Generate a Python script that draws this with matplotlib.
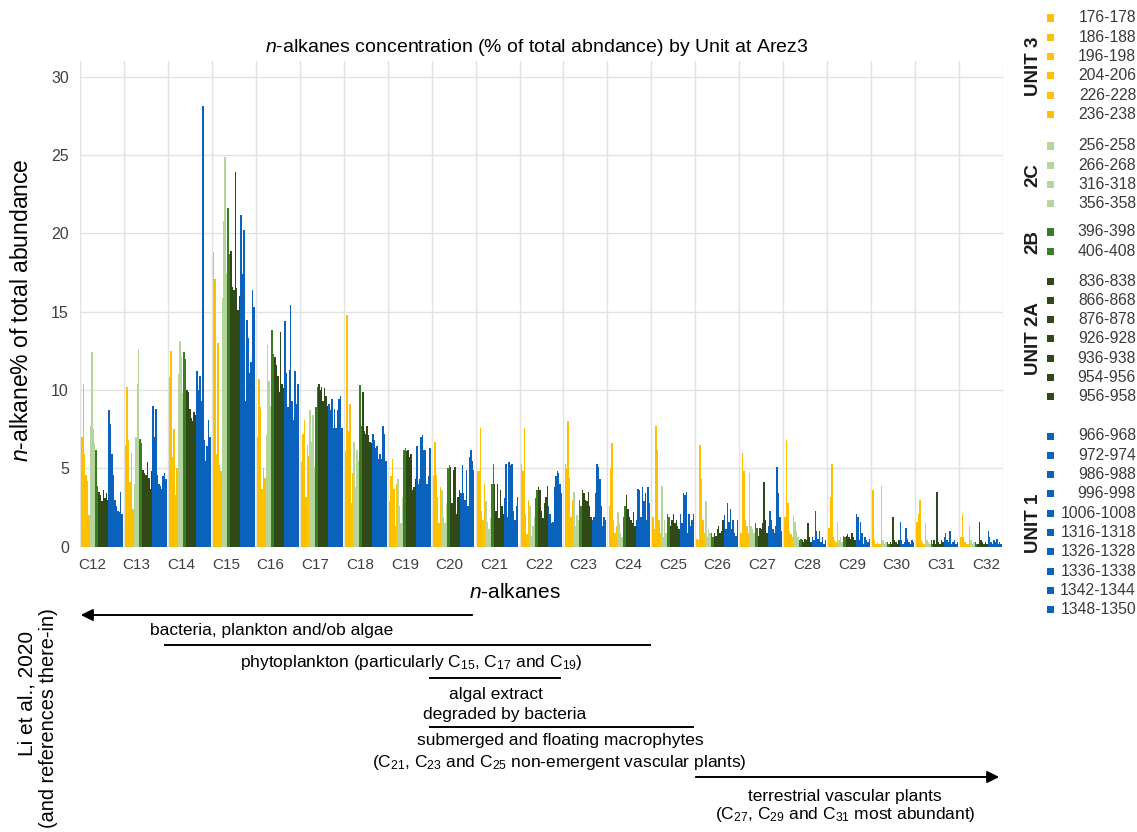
import matplotlib
matplotlib.use("Agg")
import matplotlib.pyplot as plt
from matplotlib.lines import Line2D
from matplotlib.patches import Rectangle, FancyArrowPatch

plt.rcParams['font.family'] = ['Liberation Sans', 'DejaVu Sans']
plt.rcParams['mathtext.fontset'] = 'custom'
plt.rcParams['mathtext.rm'] = 'Liberation Sans'
plt.rcParams['mathtext.it'] = 'Liberation Sans:italic'

alkanes = ['C12', 'C13', 'C14', 'C15', 'C16', 'C17', 'C18', 'C19', 'C20', 'C21', 'C22',
           'C23', 'C24', 'C25', 'C26', 'C27', 'C28', 'C29', 'C30', 'C31', 'C32']

unit3_depths = ['176-178', '186-188', '196-198', '204-206', '226-228', '236-238']
unit2c_depths = ['256-258', '266-268', '316-318', '356-358']
unit2b_depths = ['396-398', '406-408']
unit2a_depths = ['836-838', '866-868', '876-878', '926-928', '936-938', '954-956', '956-958']
unit1_depths = ['966-968', '972-974', '986-988', '996-998', '1006-1008', '1316-1318',
                '1326-1328', '1336-1338', '1342-1344', '1348-1350']

# one row per alkane (C12 ... C32), one column per sample depth
unit3 = [
    [7.0, 10.4, 5.9, 4.6, 4.2, 2.0],
    [6.5, 10.2, 6.8, 4.1, 6.0, 2.4],
    [10.8, 12.5, 5.7, 7.5, 3.3, 5.0],
    [18.8, 17.1, 5.9, 13.0, 5.2, 4.8],
    [7.0, 10.7, 8.9, 3.7, 5.0, 4.4],
    [5.4, 7.2, 8.1, 3.2, 6.5, 5.8],
    [6.1, 14.8, 7.4, 9.1, 2.8, 4.7],
    [2.9, 4.5, 5.6, 3.7, 1.3, 4.0],
    [4.5, 6.7, 4.6, 3.2, 1.5, 3.8],
    [4.8, 4.8, 7.6, 2.3, 1.7, 4.0],
    [5.3, 4.8, 7.6, 2.1, 0.8, 3.0],
    [5.3, 5.0, 8.0, 4.4, 1.9, 3.0],
    [2.6, 5.0, 6.6, 1.7, 0.9, 1.3],
    [1.9, 1.1, 7.7, 6.2, 1.7, 0.9],
    [0.5, 0.4, 6.5, 4.3, 1.7, 0.9],
    [0.9, 6.0, 4.8, 1.7, 1.3, 0.9],
    [1.9, 6.8, 2.8, 1.0, 0.8, 0.6],
    [1.2, 3.2, 5.3, 0.6, 0.4, 0.3],
    [3.6, 0.4, 0.2, 0.3, 0.2, 0.2],
    [1.6, 2.1, 3.0, 0.4, 0.3, 0.2],
    [0.6, 2.1, 0.6, 0.3, 0.2, 0.2],
]
unit2c = [
    [7.7, 12.4, 7.5, 6.6],
    [4.0, 7.0, 10.4, 12.6],
    [11.0, 13.1, 12.2, 9.8],
    [15.9, 20.8, 24.9, 17.5],
    [7.1, 12.9, 10.6, 9.0],
    [8.7, 6.7, 8.4, 5.1],
    [6.7, 3.8, 6.2, 5.5],
    [4.3, 2.6, 1.5, 3.2],
    [3.6, 1.9, 1.5, 2.8],
    [2.9, 1.6, 1.1, 1.8],
    [2.6, 0.7, 1.3, 1.9],
    [3.5, 1.3, 2.0, 1.7],
    [2.2, 1.5, 0.9, 0.6],
    [3.9, 0.6, 1.7, 0.9],
    [2.9, 0.6, 1.1, 0.9],
    [4.7, 1.3, 1.1, 0.9],
    [2.0, 1.6, 1.0, 0.6],
    [1.6, 0.4, 0.6, 0.3],
    [3.9, 0.4, 0.2, 0.3],
    [1.5, 0.4, 0.3, 0.2],
    [1.3, 0.4, 0.2, 0.3],
]
unit2b = [
    [6.2, 3.9], [6.9, 6.6], [12.4, 12.0], [21.6, 18.7], [13.8, 12.3], [8.9, 10.2],
    [10.3, 7.7], [6.2, 6.3], [5.0, 5.2], [4.0, 5.3], [3.1, 3.6], [3.0, 2.6],
    [1.9, 2.6], [2.1, 1.9], [0.9, 0.6], [1.5, 1.2], [0.4, 0.5], [0.7, 0.6],
    [0.3, 0.2], [0.4, 0.2], [0.3, 0.2],
]
unit2a = [
    [3.5, 3.3, 2.9, 3.6, 3.1, 3.4, 3.0],
    [4.9, 4.7, 4.6, 5.4, 4.4, 3.7, 4.8],
    [10.0, 9.9, 8.8, 8.2, 8.0, 8.6, 8.4],
    [18.9, 16.6, 16.4, 23.9, 16.5, 15.1, 16.0],
    [12.1, 11.6, 10.9, 9.9, 13.7, 10.4, 10.1],
    [10.4, 10.0, 10.2, 9.3, 10.1, 9.6, 9.0],
    [9.9, 7.4, 7.2, 7.7, 7.1, 6.7, 6.6],
    [6.1, 6.2, 5.7, 5.9, 3.6, 3.8, 4.3],
    [5.1, 2.8, 4.9, 5.1, 2.1, 3.2, 3.6],
    [4.0, 2.3, 4.0, 1.8, 3.6, 2.6, 2.1],
    [3.8, 3.6, 2.3, 1.8, 2.8, 3.2, 3.9],
    [3.6, 3.4, 3.0, 2.9, 3.5, 2.6, 1.9],
    [3.3, 2.4, 1.9, 1.7, 1.5, 2.2, 1.3],
    [1.3, 1.7, 2.1, 1.5, 1.7, 1.3, 1.1],
    [0.9, 0.7, 1.1, 1.3, 0.9, 1.0, 1.7],
    [0.7, 1.2, 1.1, 1.5, 4.1, 1.7, 0.9],
    [0.4, 0.3, 0.5, 0.4, 1.5, 0.6, 0.3],
    [0.7, 0.8, 0.6, 0.5, 0.9, 0.6, 0.4],
    [0.3, 0.2, 1.9, 0.4, 0.3, 0.2, 0.4],
    [0.4, 0.2, 3.5, 0.3, 0.2, 0.4, 0.3],
    [0.2, 1.6, 0.4, 0.3, 0.2, 0.3, 0.2],
]
unit1 = [
    [8.7, 7.8, 5.9, 4.6, 3.0, 2.6, 2.3, 2.2, 3.5, 2.1],
    [9.0, 7.0, 8.8, 4.6, 4.0, 3.9, 3.7, 4.5, 4.7, 4.3],
    [11.2, 10.0, 10.9, 9.3, 28.1, 6.8, 5.5, 6.4, 8.1, 7.0],
    [21.2, 17.4, 20.2, 9.3, 14.5, 13.3, 11.1, 11.8, 16.4, 15.3],
    [14.4, 11.1, 8.9, 11.3, 15.4, 9.3, 8.1, 11.2, 9.1, 10.4],
    [9.1, 8.7, 9.4, 7.6, 8.8, 7.6, 8.7, 9.4, 9.6, 7.6],
    [7.2, 6.8, 6.3, 6.4, 5.6, 5.9, 5.6, 7.7, 7.2, 5.5],
    [6.4, 4.0, 4.3, 7.0, 7.1, 6.2, 6.2, 4.0, 4.5, 6.3],
    [3.4, 5.2, 3.4, 3.0, 4.9, 2.6, 5.7, 6.2, 5.5, 4.9],
    [3.1, 5.3, 1.9, 5.4, 5.2, 5.3, 2.3, 1.7, 2.6, 3.2],
    [2.6, 2.1, 1.5, 1.6, 3.8, 4.5, 4.8, 4.7, 4.0, 3.4],
    [1.7, 1.9, 3.4, 5.3, 5.1, 4.3, 2.6, 1.3, 1.9, 1.7],
    [1.7, 3.7, 3.6, 1.9, 3.8, 2.9, 3.4, 1.7, 3.8, 2.8],
    [2.1, 1.5, 3.4, 3.3, 3.5, 0.9, 2.1, 1.3, 1.7, 2.1],
    [2.0, 1.1, 2.8, 1.6, 2.4, 1.1, 1.7, 0.9, 0.7, 1.7],
    [1.3, 2.3, 1.7, 1.1, 0.9, 1.3, 5.1, 3.4, 1.9, 1.0],
    [0.6, 0.4, 2.3, 1.0, 0.5, 1.0, 0.3, 0.6, 0.2, 0.4],
    [2.1, 1.9, 0.4, 1.6, 0.9, 0.2, 0.6, 0.4, 0.3, 0.5],
    [1.6, 0.4, 0.2, 0.3, 1.2, 0.5, 0.3, 0.2, 0.4, 0.3],
    [0.6, 0.9, 0.4, 0.3, 1.0, 0.2, 0.3, 0.4, 0.2, 0.3],
    [1.0, 0.6, 0.3, 0.2, 0.4, 0.3, 0.5, 0.2, 0.3, 0.2],
]

groups = [
    ('UNIT 3', unit3_depths, unit3, '#ffc000'),
    ('2C', unit2c_depths, unit2c, '#b4d69c'),
    ('2B', unit2b_depths, unit2b, '#3b7d23'),
    ('UNIT 2A', unit2a_depths, unit2a, '#2f4a17'),
    ('UNIT 1', unit1_depths, unit1, '#0a62bd'),
]

W, H = 1137, 832
fig = plt.figure(figsize=(W / 100, H / 100), dpi=100)


def fx(x):
    return x / W


def fy(y):
    return 1 - y / H


ax = fig.add_axes([fx(80), fy(546.7), (1003 - 80) / W, (546.7 - 61) / H])

n_series = sum(len(g[1]) for g in groups)
span = 0.95
bw = span / n_series
s = 0
for name, depths, vals, col in groups:
    for j in range(len(depths)):
        xs = [i - span / 2 + (s + 0.5) * bw for i in range(len(alkanes))]
        hs = [row[j] for row in vals]
        ax.bar(xs, hs, width=bw, color=col, linewidth=0, zorder=3)
        s += 1

ax.set_xlim(-0.5, len(alkanes) - 0.5)
ax.set_ylim(0, 31)
ax.set_yticks(range(0, 31, 5))
# category labels are spread a little wider than the bar slots
ax.set_xticks([-0.23 + i * 1.017 for i in range(len(alkanes))])
ax.set_xticklabels(alkanes)
ax.set_xticks([i + 0.5 for i in range(-1, len(alkanes))], minor=True)
ax.grid(axis='y', which='major', color='#e2e2e2', lw=1, zorder=0)
ax.grid(axis='x', which='minor', color='#e2e2e2', lw=1, zorder=0)
ax.tick_params(which='both', length=0, labelsize=11, colors='#404040')
ax.tick_params(axis='x', pad=8)
ax.tick_params(axis='y', pad=8, labelsize=11.5)
for sp in ax.spines.values():
    sp.set_visible(False)

fig.text(fx(537), fy(47), r'$\it{n}$-alkanes concentration (% of total abndance) by Unit at Arez3',
         ha='center', va='center', fontsize=14)
fig.text(fx(22), fy(310), r'$\it{n}$-alkane% of total abundance', rotation=90,
         ha='center', va='center', fontsize=16.5)
fig.text(fx(515), fy(593), r'$\it{n}$-alkanes', ha='center', va='center', fontsize=15)

# legend drawn by hand: one coloured square and depth per series
legend_start = [18, 146, 232, 281, 436]
step = 19.3
for (name, depths, vals, col), y0 in zip(groups, legend_start):
    for k, d in enumerate(depths):
        y = y0 + k * step
        fig.add_artist(Rectangle((fx(1047), fy(y + 3.5)), 7 / W, 7 / H,
                                 transform=fig.transFigure, color=col, lw=0))
        fig.text(fx(1136), fy(y), d, ha='right', va='center', fontsize=11.3, color='#3a3a3a')
    yc = y0 + (len(depths) - 1) * step / 2
    fig.text(fx(1033), fy(yc), name, rotation=90, ha='center', va='center',
             fontsize=13.5, fontweight='bold', color='#1a1a1a')

# source ranges below the axis
note = dict(ha='center', va='center', fontsize=12.5)


def hline(x1, x2, y):
    fig.add_artist(Line2D([fx(x1), fx(x2)], [fy(y), fy(y)], transform=fig.transFigure,
                          color='black', lw=1.4))


def arrow(x1, x2, y):
    fig.add_artist(FancyArrowPatch((fx(x1), fy(y)), (fx(x2), fy(y)), transform=fig.transFigure,
                                   arrowstyle='-|>', mutation_scale=18, color='black', lw=1.4))


arrow(475, 78, 615)
fig.text(fx(272), fy(630), 'bacteria, plankton and/ob algae', **note)
hline(165, 650, 645)
fig.text(fx(411), fy(662), r'phytoplankton (particularly C$_{15}$, C$_{17}$ and C$_{19}$)', **note)
hline(430, 560, 678)
fig.text(fx(496), fy(694), 'algal extract', **note)
fig.text(fx(505), fy(715), 'degraded by bacteria', **note)
hline(430, 693, 727)
fig.text(fx(560), fy(741), 'submerged and floating macrophytes', **note)
fig.text(fx(559), fy(762), r'(C$_{21}$, C$_{23}$ and C$_{25}$ non-emergent vascular plants)', **note)
arrow(693, 1002, 777)
fig.text(fx(845), fy(796), 'terrestrial vascular plants', **note)
fig.text(fx(845), fy(815), r'(C$_{27}$, C$_{29}$ and C$_{31}$ most abundant)', **note)
fig.text(fx(27), fy(693), 'Li et al., 2020', rotation=90, ha='center', va='center', fontsize=15)
fig.text(fx(49), fy(718), '(and references there-in)', rotation=90, ha='center', va='center',
         fontsize=14.3)

fig.savefig('out.png', dpi=100)
